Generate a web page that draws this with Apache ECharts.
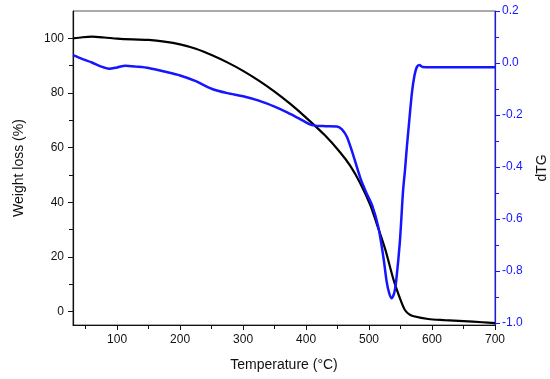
<!DOCTYPE html>
<html>
<head>
<meta charset="utf-8">
<script src="https://cdn.jsdelivr.net/npm/echarts@6/dist/echarts.min.js"></script>
<style>
html,body{margin:0;padding:0;background:#fff;}
#c{width:550px;height:379px;}
</style>
</head>
<body>
<div id="c"></div>
<script>
// Weight loss (TG) curve, left axis
var tgTemp = [30,45,60,80,100,125,150,175,200,225,250,275,300,325,350,375,400,430,454,470,486,502,512,526,539,550,557,564,571,594,620,650,680,700];
var tgWeight = [100.0,100.4,100.6,100.3,99.9,99.6,99.4,98.8,97.8,96.2,93.9,91.2,88.1,84.5,80.5,76.0,71.0,64.5,58.3,53.4,47.0,39.0,32.3,22.6,11.6,4.3,0.6,-1.0,-1.7,-2.7,-3.1,-3.5,-3.9,-4.2];
// Derivative (dTG) curve, right axis
var dtgTemp = [30,45,60,75,87,100,113,130,150,175,200,225,250,275,300,325,350,370,390,405,415,430,449,457,465,475,486,495,505,515,523,528,532,536,540,543,549,554,557,560,563,568,572,576,580,585,600,650,700];
var dtgValue = [0.030,0.015,0.002,-0.014,-0.022,-0.017,-0.011,-0.014,-0.019,-0.033,-0.048,-0.070,-0.099,-0.116,-0.128,-0.145,-0.168,-0.190,-0.215,-0.235,-0.241,-0.243,-0.244,-0.255,-0.285,-0.355,-0.441,-0.495,-0.548,-0.634,-0.750,-0.841,-0.885,-0.905,-0.885,-0.841,-0.686,-0.492,-0.415,-0.325,-0.245,-0.117,-0.050,-0.015,-0.008,-0.015,-0.016,-0.016,-0.016];
// Tick labels
var xTicks = [100,200,300,400,500,600,700];
var xMinorTicks = [50,150,250,350,450,550,650];
var leftTicks = [0,20,40,60,80,100];
var leftMinorTicks = [10,30,50,70,90];
var rightTicks = [-1.0,-0.8,-0.6,-0.4,-0.2,0.0,0.2];
var rightMinorTicks = [-0.9,-0.7,-0.5,-0.3,-0.1,0.1];

var FONT = 'Liberation Sans, Arial, sans-serif';
var BLUE = '#1515ff';

function pairs(xs, ys){ return xs.map(function(x,i){ return [x, ys[i]]; }); }

var chart = echarts.init(document.getElementById('c'), null, {renderer:'canvas'});
chart.setOption({
  animation:false,
  backgroundColor:'#fff',
  grid:{left:73,right:55,top:11,bottom:54,show:true,borderColor:'#555',borderWidth:1,containLabel:false,outerBoundsMode:'none'},
  xAxis:[{
    type:'value',min:30,max:700,position:'bottom',
    name:'Temperature (°C)',nameLocation:'middle',nameGap:33,
    nameTextStyle:{fontFamily:FONT,fontSize:14,color:'#111'},
    axisLine:{onZero:false,lineStyle:{color:'#111',width:1.2}},
    axisTick:{customValues:xTicks,length:5,lineStyle:{color:'#111'}},
    axisLabel:{customValues:xTicks,margin:9,fontFamily:FONT,fontSize:12,color:'#111'},
    splitLine:{show:false}
  },{
    type:'value',min:30,max:700,position:'bottom',
    axisLine:{show:false,onZero:false},
    axisTick:{customValues:xMinorTicks,length:4,lineStyle:{color:'#111'}},
    axisLabel:{show:false},
    splitLine:{show:false}
  }],
  yAxis:[{
    type:'value',min:-4.9,max:110,position:'left',
    name:'Weight loss (%)',nameLocation:'middle',nameGap:47,nameRotate:90,
    nameTextStyle:{fontFamily:FONT,fontSize:14,color:'#111'},
    axisLine:{show:true,onZero:false,lineStyle:{color:'#111',width:1.2}},
    axisTick:{show:true,customValues:leftTicks,length:5,lineStyle:{color:'#111'}},
    axisLabel:{customValues:leftTicks,margin:9,fontFamily:FONT,fontSize:12,color:'#111'},
    splitLine:{show:false}
  },{
    type:'value',min:-1.008,max:0.2,position:'right',
    name:'dTG',nameLocation:'middle',nameGap:40,nameRotate:90,
    nameTextStyle:{fontFamily:FONT,fontSize:14,color:'#111'},
    axisLine:{show:true,onZero:false,lineStyle:{color:BLUE,width:1.2}},
    axisTick:{show:true,customValues:rightTicks,length:5,lineStyle:{color:BLUE}},
    axisLabel:{customValues:rightTicks,margin:7,fontFamily:FONT,fontSize:12,color:BLUE,
      formatter:function(v){ return (Math.abs(v)<1e-9?0:v).toFixed(1); }},
    splitLine:{show:false}
  },{
    type:'value',min:-4.9,max:110,position:'left',
    axisLine:{show:false,onZero:false},
    axisTick:{show:true,customValues:leftMinorTicks,length:4,lineStyle:{color:'#111'}},
    axisLabel:{show:false},
    splitLine:{show:false}
  },{
    type:'value',min:-1.008,max:0.2,position:'right',
    axisLine:{show:false,onZero:false},
    axisTick:{show:true,customValues:rightMinorTicks,length:4,lineStyle:{color:BLUE}},
    axisLabel:{show:false},
    splitLine:{show:false}
  }],
  series:[{
    type:'line',xAxisIndex:0,yAxisIndex:0,
    data:pairs(tgTemp,tgWeight),
    showSymbol:false,smooth:0.25,
    lineStyle:{color:'#000',width:2.2},
    itemStyle:{color:'#000'}
  },{
    type:'line',xAxisIndex:0,yAxisIndex:1,
    data:pairs(dtgTemp,dtgValue),
    showSymbol:false,smooth:0.25,
    lineStyle:{color:BLUE,width:2.5},
    itemStyle:{color:BLUE}
  }]
});
</script>
</body>
</html>
